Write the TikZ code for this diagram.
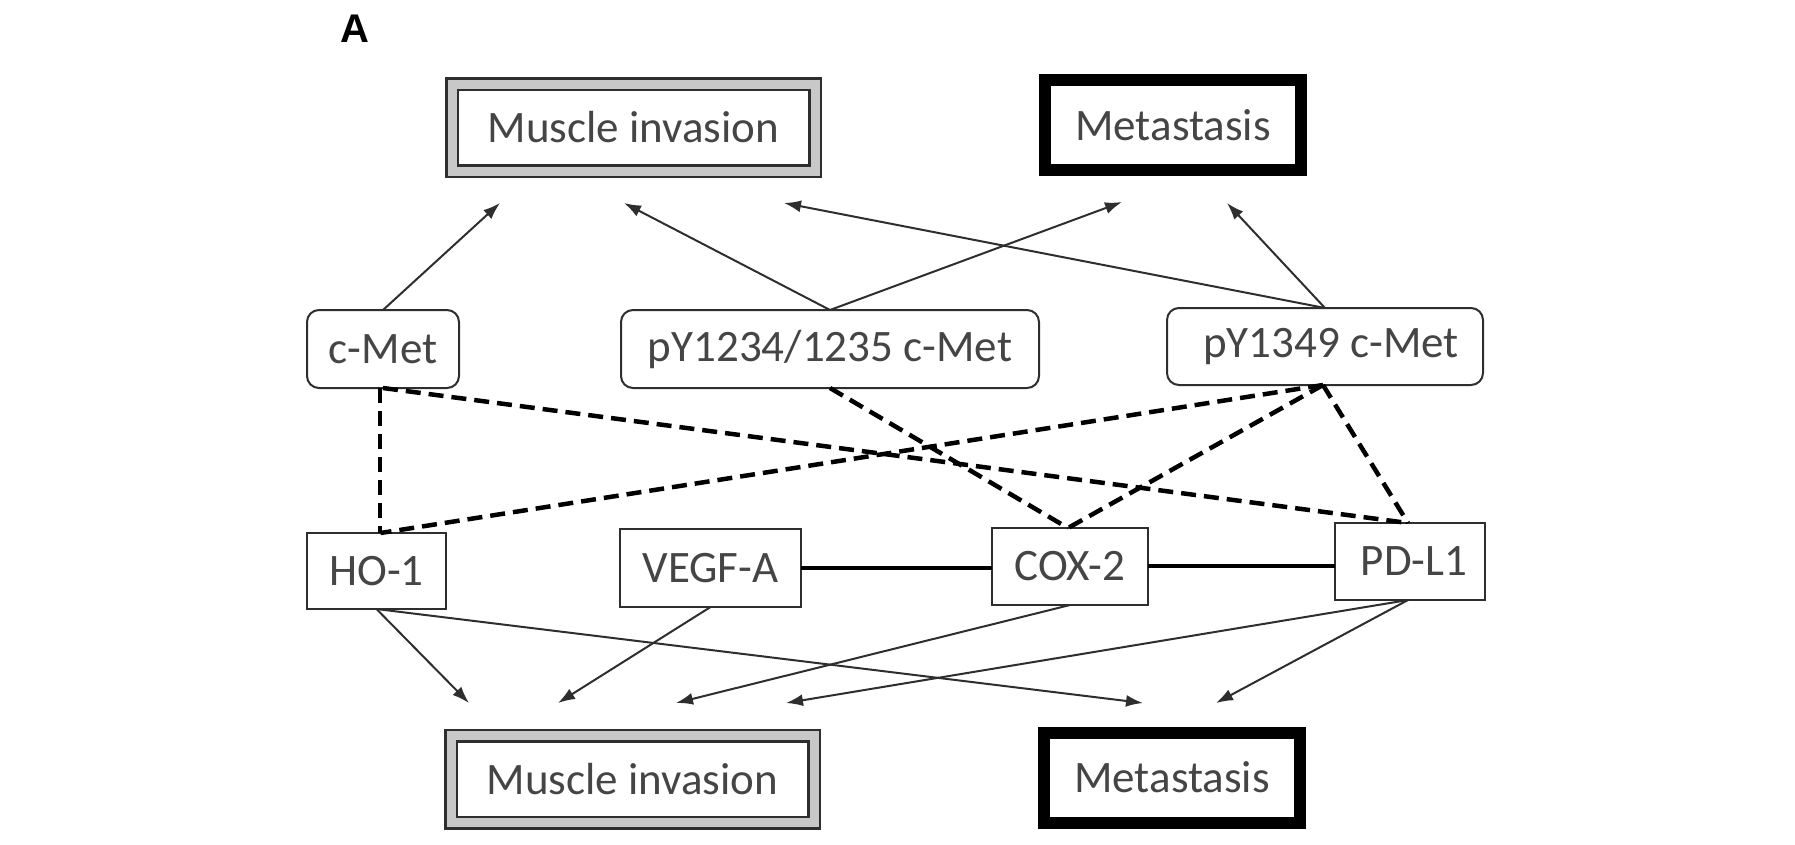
\documentclass[tikz,border=0pt]{standalone}
\usepackage{fontspec}
\setmainfont{Carlito}
\newfontfamily\labelfont{Liberation Sans}
\usetikzlibrary{arrows.meta,calc}
\definecolor{txt}{HTML}{454545}
\definecolor{edge}{HTML}{2E2E2E}
\definecolor{band}{HTML}{C8C8C8}
\begin{document}
\begin{tikzpicture}[x=1pt,y=-1pt,
  every node/.style={inner sep=0pt,outer sep=0pt,text=txt,font=\fontsize{45}{50}\selectfont},
  rbox/.style={draw=edge,line width=2pt,rounded corners=12pt,fill=white,minimum height=78pt},
  sbox/.style={draw=edge,line width=2pt,fill=white,minimum height=77pt},
  mibox/.style={draw=edge,line width=2.5pt,double=band,double distance=9pt,fill=white,minimum width=363pt,minimum height=87pt},
  metbox/.style={draw=black,line width=12pt,fill=white,minimum width=256pt,minimum height=90pt},
  arr/.style={draw=edge,line width=2pt,-{Latex[length=17pt,width=12pt]}},
  dsh/.style={draw=black,line width=4.5pt,dash pattern=on 15pt off 8pt},
  thick line/.style={draw=black,line width=4pt}
]
\useasboundingbox (0,0) rectangle (1795,844);

\node[text=black,font=\labelfont\bfseries\fontsize{40}{44}\selectfont] (lblA) at (355,29) {A};

% outcome boxes
\node[mibox] (mitop) at (633.5,127.5) {Muscle invasion};
\node[metbox] (metop) at (1173,125) {Metastasis};
\node[mibox] (mibot) at (632.5,779) {Muscle invasion};
\node[metbox] (mebot) at (1172,777.5) {Metastasis};

% c-Met row
\node[rbox,minimum width=152pt] (cmet) at (383,349) {c-Met};
\node[rbox,minimum width=418pt] (p1234) at (830,349) {pY1234/1235 c-Met};
\node[rbox,minimum width=316pt,minimum height=77pt] (p1349) at (1325,346.5) {\hspace*{12pt}pY1349 c-Met};

% factor row
\node[sbox,minimum width=139pt,minimum height=76pt] (ho1) at (376.5,571) {HO-1};
\node[sbox,minimum width=181pt,minimum height=78pt] (vegf) at (710.5,568) {VEGF-A};
\node[sbox,minimum width=156pt] (cox) at (1070,566.5) {COX-2};
\node[sbox,minimum width=150pt] (pdl1) at (1410,561.5) {\hspace*{8pt}PD-L1};

% free arrow ends
\coordinate (t1) at (500,203);
\coordinate (t2) at (624,203);
\coordinate (t3) at (1122,202);
\coordinate (t4) at (784,203);
\coordinate (t5) at (1227,203);
\coordinate (b1) at (469,703);
\coordinate (b2) at (1143,703);
\coordinate (b3) at (558,703);
\coordinate (b4) at (676,703);
\coordinate (b5) at (786,703);
\coordinate (b6) at (1216,703);

% upward arrows
\draw[arr] (cmet.north) -- (t1);
\draw[arr] (p1234.north) -- (t2);
\draw[arr] (p1234.north) -- (t3);
\draw[arr] (p1349.north) -- (t4);
\draw[arr] (p1349.north) -- (t5);

% dashed links
\coordinate (cm) at ($(cmet.south)+(-3,0)$);
\draw[dsh] (cm) -- (cm |- ho1.north);
\draw[dsh] (cmet.south) -- ($(pdl1.north)+(-2,0)$);
\draw[dsh] (p1234.south) -- ($(cox.north)+(-2,0)$);
\draw[dsh] ($(p1349.south)+(-2,0)$) -- ($(ho1.north)+(4,0)$);
\draw[dsh] ($(p1349.south)+(-2,0)$) -- ($(cox.north)+(-2,0)$);
\draw[dsh] ($(p1349.south)+(-2,0)$) -- ($(pdl1.north)+(-2,0)$);

% solid links
\draw[thick line] (vegf.east) -- (vegf.east -| cox.west);
\draw[thick line] ($(cox.east)+(0,-1)$) -- ($(cox.east -| pdl1.west)+(0,-1)$);

% downward arrows
\draw[arr] (ho1.south) -- (b1);
\draw[arr] (ho1.south) -- (b2);
\draw[arr] (vegf.south) -- (b3);
\draw[arr] (cox.south) -- (b4);
\draw[arr] ($(pdl1.south)+(-2,0)$) -- (b5);
\draw[arr] ($(pdl1.south)+(-2,0)$) -- (b6);
\end{tikzpicture}
\end{document}
